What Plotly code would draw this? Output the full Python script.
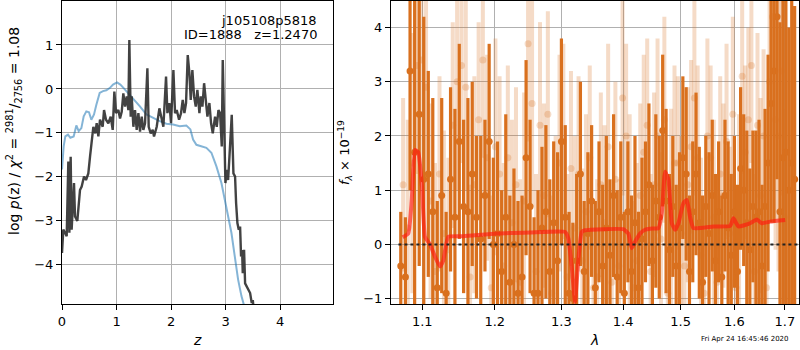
import plotly.graph_objects as go

# ---------------- left panel: p(z) ----------------
pz_z = [0.000, 0.024, 0.055, 0.086, 0.116, 0.135, 0.159, 0.177, 0.220, 0.239, 0.281, 0.330, 0.361,
        0.404, 0.440, 0.483, 0.514, 0.544, 0.575, 0.612, 0.636, 0.667, 0.697, 0.746, 0.771, 0.807,
        0.850, 0.893, 0.930, 0.960, 0.991, 1.034, 1.064, 1.095, 1.125, 1.156, 1.187, 1.217, 1.235,
        1.260, 1.278, 1.309, 1.339, 1.370, 1.401, 1.431, 1.462, 1.492, 1.523, 1.566, 1.590, 1.627,
        1.664, 1.688, 1.737, 1.786, 1.829, 1.859, 1.908, 1.933, 1.969, 2.000, 2.043, 2.073, 2.104,
        2.147, 2.183, 2.214, 2.245, 2.275, 2.306, 2.336, 2.361, 2.391, 2.422, 2.453, 2.483, 2.520,
        2.545, 2.575, 2.606, 2.636, 2.667, 2.703, 2.734, 2.765, 2.807, 2.838, 2.869, 2.899, 2.930,
        2.948, 2.972, 2.997, 3.022, 3.046, 3.071, 3.113, 3.144, 3.174, 3.193, 3.217, 3.242, 3.266,
        3.284, 3.303, 3.315, 3.339, 3.358, 3.388, 3.419, 3.450, 3.480, 3.499, 3.517]
pz_logp = [-3.73, -3.20, -3.27, -3.35, -1.65, -3.27, -1.54, -3.20, -2.14, -2.90, -3.00, -2.30, -2.22,
           -1.99, -2.07, -1.92, -1.54, -1.16, -0.86, -1.01, -0.78, -1.08, -0.70, -0.86, -0.48, -0.70,
           -0.78, -0.63, -0.93, -0.06, -0.55, -0.48, -0.67, -0.52, -0.10, -0.40, -0.17, -0.48, 1.11,
           -0.63, -0.17, -0.86, -0.48, -0.93, -0.55, -0.97, -0.63, -0.93, -0.78, 0.47, -0.86, -1.01,
           -0.93, -1.08, -0.86, -0.44, -0.70, -0.86, 0.28, -0.55, -0.32, -0.78, 0.43, -0.55, -0.48,
           -0.70, -0.55, -0.25, -0.55, -0.32, 0.77, 0.36, -0.25, 0.43, -0.17, -0.40, -0.02, -0.55,
           -0.17, -0.40, 0.13, -0.25, -0.63, -0.32, -0.78, -1.01, -0.63, -0.86, -0.48, -0.55, -1.31,
           0.66, -1.23, -2.14, -1.84, -2.07, -1.54, -0.59, -1.92, -1.99, -2.60, -3.05, -3.20, -3.13,
           -3.81, -3.66, -4.19, -3.66, -4.42, -4.49, -4.57, -4.64, -4.87, -4.80, -5.02]

chi_z = [0.000, 0.031, 0.061, 0.110, 0.153, 0.214, 0.263, 0.306, 0.355, 0.398, 0.446, 0.495, 0.538,
         0.587, 0.630, 0.691, 0.752, 0.813, 0.875, 0.936, 1.009, 1.070, 1.131, 1.211, 1.303, 1.425,
         1.547, 1.670, 1.792, 1.914, 2.037, 2.159, 2.281, 2.355, 2.404, 2.465, 2.557, 2.648, 2.740,
         2.832, 2.924, 3.015, 3.107, 3.168, 3.229, 3.291, 3.352, 3.410]
chi_logp = [-1.83, -1.30, -1.08, -1.04, -1.11, -1.08, -0.83, -0.96, -0.89, -0.62, -0.51, -0.53, -0.70,
            -0.58, -0.36, -0.09, -0.05, -0.03, 0.02, 0.10, 0.15, 0.10, 0.02, -0.09, -0.24, -0.39,
            -0.58, -0.66, -0.73, -0.79, -0.81, -0.85, -0.83, -0.92, -1.15, -1.27, -1.30, -1.34, -1.45,
            -1.76, -2.14, -2.67, -3.27, -3.80, -4.33, -4.71, -4.94, -5.24]

z_ticks = [0, 1, 2, 3, 4]
logp_ticks = [-4, -3, -2, -1, 0, 1]

# ---------------- right panel: spectrum ----------------
spec1_wave = [1.072, 1.078, 1.084, 1.090, 1.096, 1.102, 1.108, 1.114, 1.120, 1.126, 1.132, 1.138, 1.144,
              1.150, 1.156, 1.162, 1.168, 1.174, 1.180, 1.186, 1.192, 1.198, 1.204, 1.210, 1.216, 1.222,
              1.228, 1.234, 1.240, 1.246, 1.252, 1.258, 1.264, 1.270, 1.276, 1.282, 1.288, 1.294, 1.300,
              1.306, 1.312, 1.318, 1.324, 1.330, 1.336, 1.342, 1.348, 1.354, 1.360, 1.366, 1.372, 1.378,
              1.384, 1.390, 1.396, 1.402, 1.408, 1.414, 1.420, 1.426, 1.432, 1.438, 1.444, 1.450, 1.456,
              1.462, 1.468, 1.474, 1.480, 1.486, 1.492, 1.498, 1.504, 1.510, 1.516, 1.522, 1.528, 1.534,
              1.540, 1.546, 1.552, 1.558, 1.564, 1.570, 1.576, 1.582, 1.588, 1.594, 1.600, 1.606, 1.612,
              1.618, 1.624, 1.630, 1.636, 1.642, 1.648, 1.654, 1.660, 1.666, 1.672, 1.678, 1.684, 1.690,
              1.696, 1.702, 1.708, 1.714, 1.720]
spec1_flux = [-0.4, -0.6, 3.2, 1.7, 2.4, 1.2, 1.3, 0.6, -0.8, 0.9, -0.9, 1.2, 0.5,
              1.9, 0.7, 0.6, 1.3, 0.5, 0.1, 0.9, 1.9, 0.0, 0.2, -0.5, 0.5, -0.7,
              0.0, -0.9, -0.6, 1.6, 0.7, -0.9, -0.9, 0.3, 0.6, -0.5, 0.4, -0.3, 1.9,
              0.5, -0.9, -1.0, -0.3, 1.3, -0.5, 0.2, 0.8, -0.8, 0.6, -0.4, 0.3, -0.2,
              0.9, -0.6, 0.5, -0.9, 0.6, -0.5, 0.4, -0.8, 0.1, 0.6, 1.1, -0.3, 0.8,
              0.5, 2.1, 0.8, -0.1, 0.7, -0.4, 0.3, 1.6, 1.3, -0.5, 0.6, 1.3, 0.4,
              -0.7, 0.7, 0.2, 0.9, -0.3, 0.6, -0.6, 0.9, 0.3, -0.2, 0.6, -0.5, 1.4,
              1.0, 0.4, -0.1, 0.7, 0.5, 0.6, -0.4, 0.7, 1.5, 2.6, 3.2, 4.2, 0.6,
              1.6, 1.7, 1.0, 1.5, 1.2]
spec1_err = [1.0, 1.1, 2.2, 3.2, 2.8, 3.0,
             1.9, 2.1, 1.6, 1.8, 1.5, 1.7, 2.0,
             1.8, 1.6, 2.1, 1.7, 1.5, 1.9, 1.4, 1.8, 1.6, 1.7, 1.5, 1.9, 1.6,
             1.4, 1.7, 1.5, 1.8, 1.6, 1.4, 1.9, 1.5, 1.6, 1.7, 1.5, 2.0, 1.9,
             1.7, 1.5, 1.4, 1.6, 1.7, 1.3, 1.5, 1.4, 1.6, 1.3, 1.5, 1.7, 1.4,
             1.5, 1.6, 1.4, 1.5, 1.3, 1.4, 1.6, 1.4, 1.5, 1.3, 1.5, 1.4, 1.6,
             1.5, 1.4, 1.7, 1.4, 1.3, 1.5, 1.4, 1.5, 1.6, 1.4, 1.3, 1.5, 1.4,
             1.6, 1.3, 1.5, 1.4, 1.6, 1.3, 1.5, 1.4, 1.6, 1.5, 1.4, 1.6, 1.5,
             1.4, 1.7, 1.5, 1.4, 1.6, 1.7, 1.5, 1.8, 2.0, 2.2, 2.8, 3.0, 3.5,
             3.2, 3.5, 3.0, 3.0, 3.2]

spec2_wave = [1.075, 1.081, 1.087, 1.093, 1.099, 1.105, 1.111, 1.117, 1.123, 1.129, 1.135, 1.141, 1.147,
              1.153, 1.159, 1.165, 1.171, 1.177, 1.183, 1.189, 1.195, 1.201, 1.207, 1.213, 1.219, 1.225,
              1.231, 1.237, 1.243, 1.249, 1.255, 1.261, 1.267, 1.273, 1.279, 1.285, 1.291, 1.297, 1.303,
              1.309, 1.315, 1.321, 1.327, 1.333, 1.339, 1.345, 1.351, 1.357, 1.363, 1.369, 1.375, 1.381,
              1.387, 1.393, 1.399, 1.405, 1.411, 1.417, 1.423, 1.429, 1.435, 1.441, 1.447, 1.453, 1.459,
              1.465, 1.471, 1.477, 1.483, 1.489, 1.495, 1.501, 1.507, 1.513, 1.519, 1.525, 1.531, 1.537,
              1.543, 1.549, 1.555, 1.561, 1.567, 1.573, 1.579, 1.585, 1.591, 1.597, 1.603, 1.609, 1.615,
              1.621, 1.627, 1.633, 1.639, 1.645, 1.651, 1.657, 1.663, 1.669, 1.675, 1.681, 1.687, 1.693,
              1.699]
spec2_flux = [1.1, 0.3, 1.5, 3.3, 3.4, 2.9, 0.8, -0.5, 1.3, 0.2, -0.1, 2.2, 3.0,
              3.3, 2.9, -0.6, 1.1, 2.3, 3.4, 1.6, -0.8, 1.8, 1.3, -0.4, 1.6, 0.4,
              1.1, -0.7, 0.8, 3.7, 2.6, -0.5, 2.2, 0.9, 2.4, -0.9, 0.1, 1.5, 1.9,
              -0.6, 1.4, 0.3, 1.3, -0.3, 0.6, 1.6, -0.8, -0.6, 1.1, 0.4, 1.8, -0.7,
              1.2, -0.4, 2.7, 2.0, 0.6, -0.8, -0.3, 0.9, 1.7, 2.2, -0.5, 1.1, 2.0,
              0.1, 2.3, -0.9, 0.7, 1.5, 1.5, 0.2, -0.4, 1.1, 1.8, 2.7, 1.6, -0.2,
              -0.9, 2.0, 1.6, 0.5, -0.7, 1.3, 0.9, 1.9, 0.2, 2.4, -0.8, 0.6, 3.1,
              1.7, 2.3, 3.3, -0.5, 2.2, 0.9, 2.0, -0.8, 3.0, 4.2, 2.3, 2.0, 3.2,
              0.5]
spec2_err = [1.6, 2.0, 2.4, 2.0, 2.2, 1.9, 1.8, 2.0, 1.8, 1.9, 1.7, 1.9, 2.0,
             1.8, 1.9, 1.7, 2.0, 1.8, 1.8, 1.9, 1.7, 2.0, 1.8, 1.9, 1.7, 1.9,
             1.8, 1.9, 2.0, 1.8, 1.9, 1.8, 1.9, 1.7, 1.9, 1.8, 1.9, 2.0, 1.8,
             1.9, 1.8, 1.7, 1.8, 1.7, 1.8, 1.7, 1.6, 1.8, 1.7, 1.8, 1.9, 1.7,
             1.8, 1.6, 1.8, 1.7, 1.8, 1.6, 1.8, 1.7, 1.8, 1.6, 1.8, 1.7, 1.8,
             1.6, 1.9, 1.7, 1.8, 1.8, 1.6, 1.8, 1.7, 1.8, 1.6, 1.8, 1.7, 1.8,
             1.6, 1.8, 1.7, 1.8, 1.6, 1.8, 1.7, 1.8, 1.6, 1.8, 1.7, 1.8, 1.8,
             1.6, 1.7, 1.8, 1.8, 1.7, 1.8, 1.6, 1.8, 1.8, 2.2, 2.4, 2.5, 2.3,
             2.0]

model_wave = [1.0744, 1.0817, 1.0862, 1.0904, 1.0947, 1.0997, 1.1036, 1.1103, 1.1170, 1.1237, 1.1281,
              1.1349, 1.1556, 1.2027, 1.2519, 1.3056, 1.3108, 1.3162, 1.3214, 1.3266, 1.3321, 1.3374,
              1.4003, 1.4087, 1.4144, 1.4201, 1.4287, 1.4373, 1.4460, 1.4604, 1.4664, 1.4723, 1.4782,
              1.4842, 1.4901, 1.4960, 1.5050, 1.5112, 1.5172, 1.5233, 1.5602, 1.5918, 1.5982, 1.6078,
              1.6305, 1.6437, 1.6535, 1.6701, 1.7005]
model_flux = [0.13, 0.20, 0.82, 1.74, 1.70, 1.06, 0.14, 0.00, -0.23, -0.41, -0.30,
              0.14, 0.15, 0.20, 0.22, 0.23, 0.11, -0.41, -1.06, -0.29, 0.23, 0.26,
              0.28, 0.20, -0.07, 0.05, 0.20, 0.27, 0.29, 0.30, 0.57, 1.34, 1.20,
              0.39, 0.27, 0.39, 0.76, 0.82, 0.50, 0.30, 0.33, 0.34, 0.48, 0.33,
              0.39, 0.46, 0.39, 0.42, 0.45]

wave_ticks = [1.1, 1.2, 1.3, 1.4, 1.5, 1.6, 1.7]
flux_ticks = [-1, 0, 1, 2, 3, 4]
zero_wave = [1.069, 1.726]
zero_flux = [0, 0]

ORANGE = "rgb(217,112,30)"
ORANGE_LIGHT = "rgba(217,112,30,0.25)"

fig = go.Figure()

fig.add_trace(go.Scatter(x=chi_z, y=chi_logp, mode="lines",
                         line=dict(color="rgba(31,119,180,0.55)", width=2),
                         xaxis="x", yaxis="y", showlegend=False))
fig.add_trace(go.Scatter(x=pz_z, y=pz_logp, mode="lines",
                         line=dict(color="rgba(45,45,45,0.9)", width=2.4),
                         xaxis="x", yaxis="y", showlegend=False))

fig.add_trace(go.Scatter(x=spec2_wave, y=spec2_flux, mode="markers",
                         marker=dict(color=ORANGE_LIGHT, size=7),
                         error_y=dict(type="data", array=spec2_err, color=ORANGE_LIGHT,
                                      thickness=4, width=0),
                         xaxis="x2", yaxis="y2", showlegend=False))
fig.add_trace(go.Scatter(x=spec1_wave, y=spec1_flux, mode="markers",
                         marker=dict(color=ORANGE, size=7),
                         error_y=dict(type="data", array=spec1_err, color=ORANGE,
                                      thickness=3.2, width=0),
                         xaxis="x2", yaxis="y2", showlegend=False))
fig.add_trace(go.Scatter(x=model_wave, y=model_flux, mode="lines",
                         line=dict(color="rgba(255,25,15,0.65)", width=4, shape="spline",
                                   smoothing=0.4),
                         xaxis="x2", yaxis="y2", showlegend=False))
fig.add_trace(go.Scatter(x=zero_wave, y=zero_flux, mode="lines",
                         line=dict(color="#222222", width=2, dash="dot"),
                         xaxis="x2", yaxis="y2", showlegend=False))

FONT = dict(family="DejaVu Sans", size=13, color="black")
ax_common = dict(showgrid=True, gridcolor="#b0b0b0", gridwidth=1, zeroline=False,
                 showline=True, mirror=True, linecolor="black", linewidth=1,
                 ticks="outside", ticklen=5, tickcolor="black", tickfont=FONT,
                 automargin=False)

ydom = [46 / 350, 349 / 350]
fig.update_layout(
    width=800, height=350,
    margin=dict(l=0, r=0, t=0, b=0),
    paper_bgcolor="white", plot_bgcolor="white",
    font=FONT,
    xaxis=dict(domain=[62 / 800, 333 / 800], range=[0, 4.97], tickvals=z_ticks,
               anchor="y", **ax_common),
    yaxis=dict(domain=ydom, range=[-4.89, 2.0], tickvals=logp_ticks,
               ticktext=["\u22124", "\u22123", "\u22122", "\u22121", "0", "1"],
               anchor="x", **ax_common),
    xaxis2=dict(domain=[391 / 800, 799 / 800], type="log", range=[0.0251, 0.2378],
                tickvals=wave_ticks, ticktext=[str(v) for v in wave_ticks],
                anchor="y2", **ax_common),
    yaxis2=dict(domain=ydom, range=[-1.10, 4.49], tickvals=flux_ticks,
                ticktext=["\u22121", "0", "1", "2", "3", "4"],
                anchor="x2", **ax_common),
)

ann = [
    dict(text="j105108p5818", x=319 / 800, y=(350 - 20) / 350, xanchor="right", yanchor="middle"),
    dict(text="ID=1888   z=1.2470", x=319 / 800, y=(350 - 35) / 350, xanchor="right", yanchor="middle"),
    dict(text="log <i>p</i>(z) / <i>χ</i><sup>2</sup> = <sup>2981</sup>/<sub>2756</sub> = 1.08",
         x=14 / 800, y=(350 - 131) / 350, xanchor="center", yanchor="middle", textangle=-90,
         font=dict(family="DejaVu Sans", size=14, color="black")),
    dict(text="<i>f</i><sub><i>λ</i></sub> × 10<sup>−19</sup>",
         x=345 / 800, y=(350 - 153) / 350, xanchor="center", yanchor="middle", textangle=-90),
    dict(text="<i>z</i>", x=197 / 800, y=(350 - 340) / 350, xanchor="center", yanchor="middle",
         font=dict(family="DejaVu Sans", size=14, color="black")),
    dict(text="<i>λ</i>", x=594 / 800, y=(350 - 340) / 350, xanchor="center", yanchor="middle",
         font=dict(family="DejaVu Sans", size=14, color="black")),
    dict(text="Fri Apr 24 16:45:46 2020", x=745 / 800, y=(350 - 339) / 350, xanchor="center",
         yanchor="middle", font=dict(family="DejaVu Sans", size=7, color="black")),
]
for a in ann:
    a.setdefault("font", FONT)
    fig.add_annotation(xref="paper", yref="paper", showarrow=False, **a)

fig.write_html("out.html", config={"displayModeBar": False},
               post_script="document.body.style.margin='0px';")
